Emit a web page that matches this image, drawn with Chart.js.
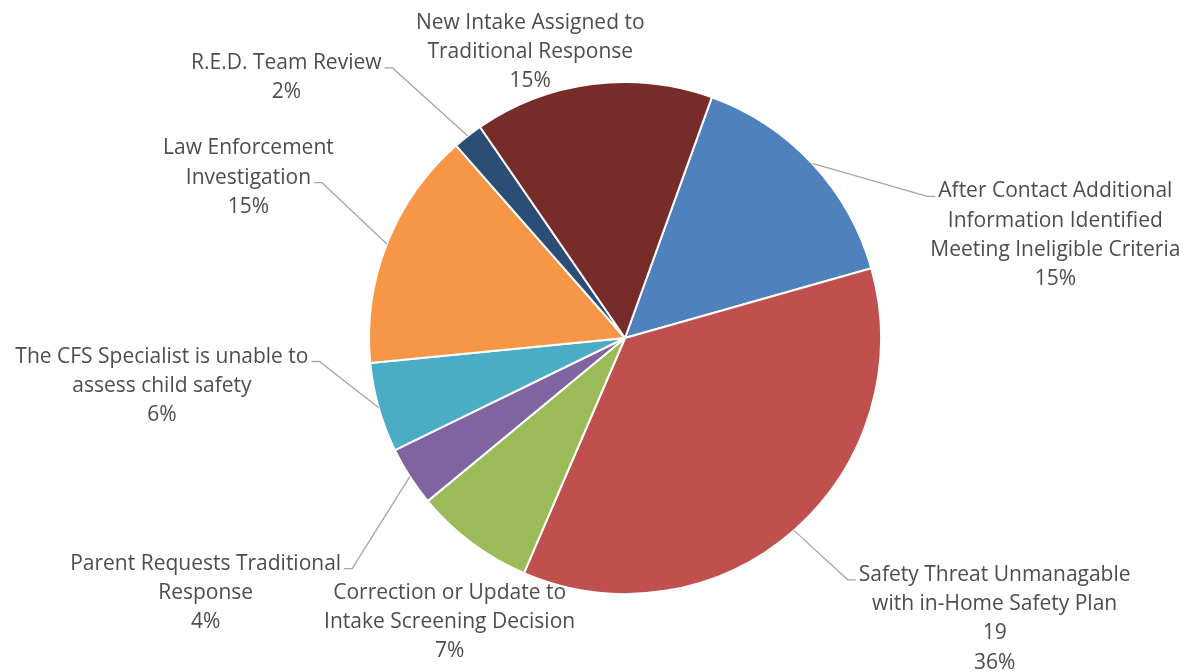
<!DOCTYPE html>
<html>
<head>
<meta charset="utf-8">
<script src="https://cdn.jsdelivr.net/npm/chart.js@4.4.1/dist/chart.umd.min.js"></script>
<style>
  html, body { margin: 0; padding: 0; background: #ffffff; }
  canvas { display: block; }
</style>
</head>
<body>
<canvas id="c" width="1192" height="672"></canvas>
<script>
// ---- data ----
const categories = [
  ["After Contact Additional", "Information Identified", "Meeting Ineligible Criteria"],
  ["Safety Threat Unmanagable", "with in-Home Safety Plan"],
  ["Correction or Update to", "Intake Screening Decision"],
  ["Parent Requests Traditional", "Response"],
  ["The CFS Specialist is unable to", "assess child safety"],
  ["Law Enforcement", "Investigation"],
  ["R.E.D. Team Review"],
  ["New Intake Assigned to", "Traditional Response"]
];
const values = [8, 19, 4, 2, 3, 8, 1, 8];
const showValue = [false, true, false, false, false, false, false, false];
const colors = ["#4F81BD", "#C0504D", "#9BBB59", "#8064A2", "#4BACC6", "#F79646", "#2C4D75", "#772C2A"];

// label placement (relative to pie centre, in units of radius) and leader-line settings
const labelLayout = [
  { dx: 1.681, dy: -0.409, leader: true, line: 0 },
  { dx: 1.444, dy: 1.089, leader: true, line: 0 },
  { dx: -0.685, dy: 1.101, leader: false, line: 0 },
  { dx: -1.638, dy: 0.988, leader: true, line: 0 },
  { dx: -1.809, dy: 0.179, leader: true, line: 0 },
  { dx: -1.471, dy: -0.634, leader: true, line: 1 },
  { dx: -1.323, dy: -1.025, leader: true, line: 0 },
  { dx: -0.370, dy: -1.125, leader: false, line: 0 }
];

// percentages rounded so they add to 100 (largest remainder)
function roundedPercents(vals) {
  const total = vals.reduce((a, b) => a + b, 0);
  const raw = vals.map(v => v / total * 100);
  const fl = raw.map(Math.floor);
  let left = 100 - fl.reduce((a, b) => a + b, 0);
  const order = raw.map((r, i) => [r - Math.floor(r), i]).sort((a, b) => b[0] - a[0]);
  for (let k = 0; k < left; k++) fl[order[k][1]] += 1;
  return fl;
}
const percents = roundedPercents(values);

const FONT = '21px "Open Sans", sans-serif';
const LINE_H = 29.3;

const labelPlugin = {
  id: 'outerLabels',
  afterDatasetsDraw(chart) {
    const ctx = chart.ctx;
    const meta = chart.getDatasetMeta(0);
    ctx.save();
    ctx.font = FONT;
    ctx.textAlign = 'center';
    ctx.textBaseline = 'middle';
    meta.data.forEach((arc, i) => {
      const p = arc.getProps(['x', 'y', 'startAngle', 'endAngle', 'outerRadius'], true);
      const lay = labelLayout[i];
      const lines = categories[i].slice();
      if (showValue[i]) lines.push(String(values[i]));
      lines.push(percents[i] + '%');
      const cx = p.x + lay.dx * p.outerRadius;
      const cy = p.y + lay.dy * p.outerRadius;
      const top = cy - (lines.length - 1) * LINE_H / 2;
      ctx.fillStyle = '#4d4d4d';
      lines.forEach((t, j) => ctx.fillText(t, cx, top + 2 + j * LINE_H));
      if (lay.leader) {
        const w = ctx.measureText(lines[lay.line]).width;
        const mid = (p.startAngle + p.endAngle) / 2;
        const px = p.x + Math.cos(mid) * p.outerRadius;
        const py = p.y + Math.sin(mid) * p.outerRadius;
        const ly = top + lay.line * LINE_H + 7;
        const left = lay.dx < 0;
        const sx = left ? cx + w / 2 + 3 : cx - w / 2 - 3;
        const hx = sx + (left ? 8 : -8);
        ctx.strokeStyle = '#A6A6A6';
        ctx.lineWidth = 1.3;
        ctx.beginPath();
        ctx.moveTo(sx, ly);
        ctx.lineTo(hx, ly);
        ctx.lineTo(px, py);
        ctx.stroke();
      }
    });
    ctx.restore();
  }
};

new Chart(document.getElementById('c'), {
  type: 'pie',
  data: {
    labels: categories.map(c => c.join(' ')),
    datasets: [{
      data: values,
      backgroundColor: colors,
      borderColor: '#ffffff',
      borderWidth: 2
    }]
  },
  options: {
    responsive: false,
    animation: false,
    rotation: 19.85,
    layout: { padding: { left: 368, right: 310, top: 81, bottom: 77 } },
    plugins: {
      legend: { display: false },
      tooltip: { enabled: false }
    }
  },
  plugins: [labelPlugin]
});
</script>
</body>
</html>
